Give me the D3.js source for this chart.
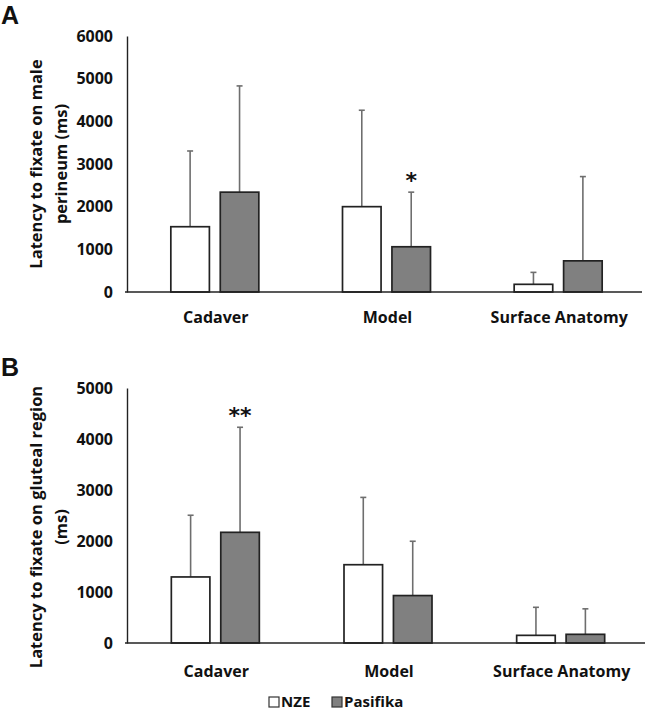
<!DOCTYPE html>
<html>
<head>
<meta charset="utf-8">
<script src="https://cdn.jsdelivr.net/npm/d3@7"></script>
<style>
  body { margin: 0; background: #fff; }
  text { font-family: 'Open Sans', Lato, sans-serif; font-weight: 700; fill: #111; }
</style>
</head>
<body>
<div id="chart"></div>
<script>
// data
const categories = ['Cadaver', 'Model', 'Surface Anatomy'];
const groups = ['NZE', 'Pasifika'];
const groupFill = ['#ffffff', '#808080'];

// panel A: male perineum
const perineumNZE = [1530, 2000, 180];
const perineumPasifika = [2340, 1060, 730];
const perineumNZEsd = [1775, 2260, 280];
const perineumPasifikaSd = [2490, 1280, 1975];
const perineumTicks = [0, 1000, 2000, 3000, 4000, 5000, 6000];
const perineumStars = ['', '*', ''];

// panel B: gluteal region
const glutealNZE = [1295, 1535, 150];
const glutealPasifika = [2170, 930, 170];
const glutealNZEsd = [1210, 1320, 550];
const glutealPasifikaSd = [2060, 1065, 500];
const glutealTicks = [0, 1000, 2000, 3000, 4000, 5000];
const glutealStars = ['**', '', ''];

const svg = d3.select('#chart').append('svg')
  .attr('width', 647)
  .attr('height', 711);

function makePanel(opts) {
  const x0 = d3.scaleBand()
    .domain(categories)
    .range([127, opts.right]);

  const x1 = d3.scaleBand()
    .domain(groups)
    .range([0, 88])
    .paddingInner(0.22);

  const y = d3.scaleLinear()
    .domain([0, d3.max(opts.ticks)])
    .range([opts.bottom, opts.top]);

  const g = svg.append('g');

  // panel letter
  g.append('text')
    .attr('x', 1)
    .attr('y', opts.top - 12)
    .style('font-size', '25px')
    .style('font-family', "'Liberation Sans', Arial, sans-serif")
    .text(opts.letter);

  // y axis: line only, labels on the left
  const yAxis = d3.axisLeft(y)
    .tickValues(opts.ticks)
    .tickSize(0)
    .tickPadding(14)
    .tickFormat(d3.format('d'));

  const ya = g.append('g')
    .attr('transform', 'translate(127,0)')
    .call(yAxis);
  ya.select('.domain').attr('stroke', '#222').attr('stroke-width', 1.4);
  ya.selectAll('text')
    .style('font-size', '16px')
    .style('font-family', "'Open Sans', sans-serif")
    .attr('fill', '#111');

  // y title, two lines
  opts.title.forEach(function(line, i) {
    g.append('text')
      .attr('transform', 'translate(' + (42 + i * 25) + ',' + opts.titleY + ') rotate(-90)')
      .attr('text-anchor', 'middle')
      .style('font-size', '16.5px')
      .text(line);
  });

  const series = [opts.nze, opts.pas];
  const errs = [opts.nzeSd, opts.pasSd];

  const offset = (x0.bandwidth() - 88) / 2 + 2;

  categories.forEach(function(cat, ci) {
    groups.forEach(function(grp, gi) {
      const bx = x0(cat) + offset + x1(grp);
      const v = series[gi][ci];
      const top = v + errs[gi][ci];
      const cx = bx + x1.bandwidth() / 2;

      // error bar (upper only)
      g.append('line')
        .attr('x1', cx).attr('x2', cx)
        .attr('y1', y(v)).attr('y2', y(top))
        .attr('stroke', '#6e6e6e')
        .attr('stroke-width', 1.6);
      g.append('line')
        .attr('x1', cx - 3).attr('x2', cx + 3)
        .attr('y1', y(top)).attr('y2', y(top))
        .attr('stroke', '#6e6e6e')
        .attr('stroke-width', 1.6);

      g.append('rect')
        .attr('x', bx)
        .attr('y', y(v))
        .attr('width', x1.bandwidth())
        .attr('height', y(0) - y(v))
        .attr('fill', groupFill[gi])
        .attr('stroke', '#222')
        .attr('stroke-width', 1.7);
    });
  });

  // significance stars above the Pasifika error bars
  opts.stars.forEach(function(s, ci) {
    if (!s) return;
    const bx = x0(categories[ci]) + offset + x1('Pasifika') + x1.bandwidth() / 2;
    const top = opts.pas[ci] + opts.pasSd[ci];
    g.append('text')
      .attr('x', bx)
      .attr('y', y(top) - 4)
      .attr('text-anchor', 'middle')
      .style('font-size', '22px')
      .style('font-family', "'DejaVu Sans', sans-serif")
      .text(s);
  });

  // baseline across the full width
  g.append('line')
    .attr('x1', 125).attr('x2', opts.right)
    .attr('y1', y(0)).attr('y2', y(0))
    .attr('stroke', '#222')
    .attr('stroke-width', 1.4);

  // category labels
  categories.forEach(function(cat) {
    g.append('text')
      .attr('x', x0(cat) + x0.bandwidth() / 2 + 3)
      .attr('y', y(0) + opts.labelGap)
      .attr('text-anchor', 'middle')
      .style('font-size', '16px')
      .text(cat);
  });
}

makePanel({
  letter: 'A', top: 36, bottom: 292, right: 642,
  ticks: perineumTicks, nze: perineumNZE, pas: perineumPasifika,
  nzeSd: perineumNZEsd, pasSd: perineumPasifikaSd, stars: perineumStars,
  title: ['Latency to fixate on male', 'perineum (ms)'], titleY: 164, labelGap: 31
});

makePanel({
  letter: 'B', top: 388, bottom: 643, right: 645,
  ticks: glutealTicks, nze: glutealNZE, pas: glutealPasifika,
  nzeSd: glutealNZEsd, pasSd: glutealPasifikaSd, stars: glutealStars,
  title: ['Latency to fixate on gluteal region', '(ms)'], titleY: 527, labelGap: 34
});

// legend
const legend = svg.append('g').attr('transform', 'translate(269,696)');
const legendX = [0, 63];
groups.forEach(function(grp, i) {
  legend.append('rect')
    .attr('x', legendX[i])
    .attr('y', 1)
    .attr('width', 10)
    .attr('height', 10)
    .attr('fill', groupFill[i])
    .attr('stroke', '#333')
    .attr('stroke-width', 1.2);
  legend.append('text')
    .attr('x', legendX[i] + 12)
    .attr('y', 10.5)
    .style('font-size', '15px')
    .text(grp);
});
</script>
</body>
</html>
